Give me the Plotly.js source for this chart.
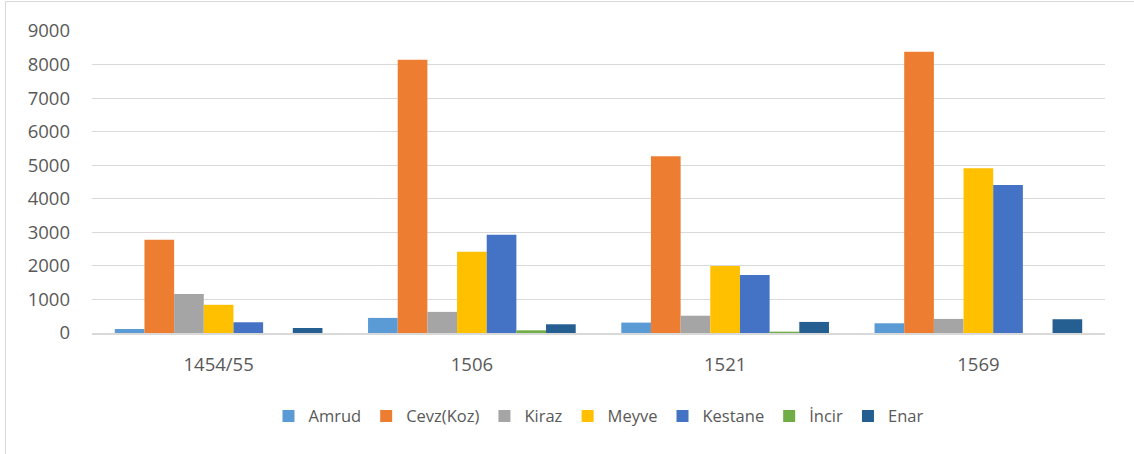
<!DOCTYPE html>
<html>
<head>
<meta charset="utf-8">
<script src="https://cdn.plot.ly/plotly-3.0.1.min.js"></script>
<style>
html,body{margin:0;padding:0;background:#fff;}
#wrap{position:relative;width:1134px;height:454px;}
#chart{position:absolute;left:0;top:0;width:1134px;height:454px;}
#frame{position:absolute;left:5px;top:1px;width:1140px;height:460px;border-left:1.5px solid #d9d9d9;border-top:1.5px solid #d9d9d9;pointer-events:none;}
</style>
</head>
<body>
<div id="wrap"><div id="chart"></div><div id="frame"></div></div>
<script>
const categories = ["1454/55", "1506", "1521", "1569"];
const seriesNames = ["Amrud", "Cevz(Koz)", "Kiraz", "Meyve", "Kestane", "İncir", "Enar"];
const amrud   = [120, 450, 310, 290];
const cevz    = [2780, 8140, 5270, 8380];
const kiraz   = [1160, 630, 515, 420];
const meyve   = [840, 2420, 2000, 4910];
const kestane = [320, 2930, 1730, 4410];
const incir   = [0, 80, 40, 0];
const enar    = [150, 260, 330, 410];
const seriesValues = [amrud, cevz, kiraz, meyve, kestane, incir, enar];
const colors = ["#5b9bd5", "#ed7d31", "#a5a5a5", "#ffc000", "#4472c4", "#70ad47", "#255e91"];
const yTicks = [0, 1000, 2000, 3000, 4000, 5000, 6000, 7000, 8000, 9000];

const font = "Open Sans, Liberation Sans, sans-serif";
const traces = seriesNames.map((n, i) => ({
  type: "bar", name: n, x: categories, y: seriesValues[i],
  marker: {color: colors[i]}
}));

const layout = {
  width: 1134, height: 454,
  margin: {l: 92, r: 29, t: 31, b: 121},
  paper_bgcolor: "#fff", plot_bgcolor: "#fff",
  barmode: "group", bargap: 0.18, bargroupgap: 0,
  font: {family: font, size: 18, color: "#595959"},
  showlegend: true,
  legend: {orientation: "h", x: 0.5, xanchor: "center", y: -0.218, yanchor: "top",
           font: {family: font, size: 16.5, color: "#595959"}, traceorder: "normal",
           itemwidth: 30},
  xaxis: {type: "category", showgrid: false, zeroline: false, showline: true,
          linecolor: "#d9d9d9", linewidth: 1.5, ticks: "", ticklen: 0,
          ticklabelstandoff: 14,
          tickfont: {family: font, size: 18.5, color: "#595959"}},
  yaxis: {range: [0, 9000], tickvals: yTicks, ticktext: yTicks.map(String),
          showgrid: true, gridcolor: "#d9d9d9", gridwidth: 1, zeroline: false,
          showline: false, ticks: "", ticklabelstandoff: 21,
          tickfont: {family: font, size: 18.5, color: "#595959"}}
};

Plotly.newPlot("chart", traces, layout, {displayModeBar: false, staticPlot: true});
</script>
</body>
</html>
